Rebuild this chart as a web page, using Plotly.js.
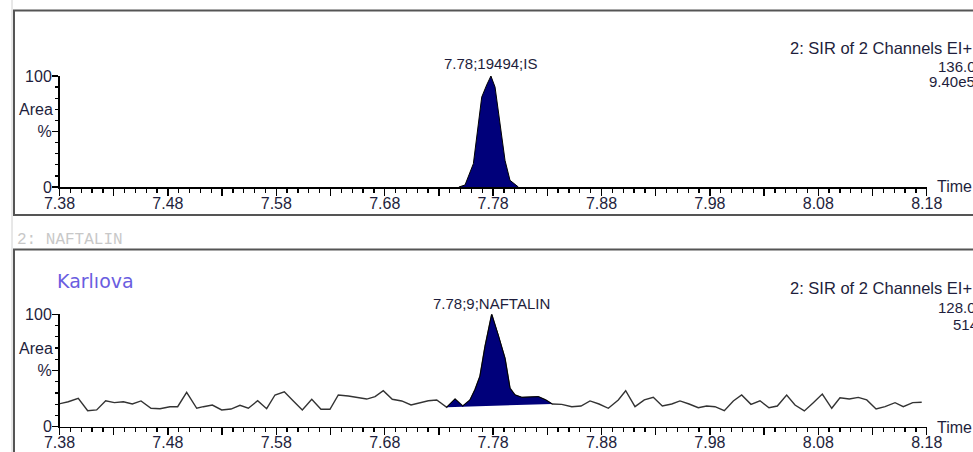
<!DOCTYPE html>
<html>
<head>
<meta charset="utf-8">
<script src="https://cdn.plot.ly/plotly-3.0.1.min.js"></script>
<style>
html,body{margin:0;padding:0;background:#fff;overflow:hidden;}
#chart{width:973px;height:452px;}
</style>
</head>
<body>
<div id="chart"></div>
<script>
// ---- Data ----
const xTickVals = [7.38,7.43,7.48,7.53,7.58,7.63,7.68,7.73,7.78,7.83,7.88,7.93,7.98,8.03,8.08,8.13,8.18];
const xTickText = ['7.38','','7.48','','7.58','','7.68','','7.78','','7.88','','7.98','','8.08','','8.18'];
const yTickVals = [0, 50, 100];
const yTickText = ['0', '%', '100'];

// Top panel: IS (136.00)
const isTime = [7.7484, 7.7541, 7.7618, 7.7664, 7.7695, 7.7741, 7.7780, 7.7818, 7.7848, 7.7879, 7.7910, 7.7956, 7.8033];
const isArea = [0, 1.8, 21, 54, 81, 92, 100, 90, 69, 48, 24, 6, 0];
const isLabel = '7.78;19494;IS';
const isApex = 7.778;

// Bottom panel: NAFTALIN (128.00)
const naftTime = [7.3789,7.3881,7.3973,7.4060,7.4143,7.4226,7.4306,7.4389,7.4472,7.4552,
  7.4644,7.4727,7.4819,7.4890,7.4973,7.5066,7.5127,7.5210,7.5296,7.5382,
  7.5465,7.5542,7.5628,7.5711,7.5788,7.5874,7.5957,7.6040,7.6127,7.6212,
  7.6295,7.6372,7.6464,7.6551,7.6634,7.6711,7.6787,7.6870,7.6957,7.7043,
  7.7126,7.7202,7.7280,7.7372,7.7449,7.7520,7.7587,7.7633,7.7679,7.7725,
  7.7787,7.7848,7.7910,7.7956,7.8002,7.8064,7.8141,7.8217,7.8285,7.8346,
  7.8433,7.8526,7.8611,7.8694,7.8777,7.8863,7.8955,7.9023,7.9109,7.9195,
  7.9278,7.9361,7.9448,7.9524,7.9608,7.9693,7.9770,7.9847,7.9933,8.0016,
  8.0093,8.0179,8.0262,8.0345,8.0422,8.0508,8.0585,8.0671,8.0754,8.0837,
  8.0924,8.1000,8.1086,8.1169,8.1247,8.1333,8.1416,8.1508,8.1584,8.1671,8.1754];
const naftArea = [20.2,22.2,25.3,14.2,14.9,23.1,21.4,22.2,20.2,22.9,
  16.4,16.0,17.8,17.8,30.6,16.4,17.8,19.3,14.9,15.7,
  19.0,16.4,23.1,16.0,28.2,31.1,22.9,14.9,24.4,15.5,
  15.5,28.2,27.3,26.1,24.6,26.7,32.0,24.4,22.9,19.3,
  21.4,23.1,23.8,17.3,24.6,18.4,23.8,33.0,45.0,71.2,
  100,81.6,60.8,34.2,28.2,26.1,26.7,26.7,23.8,20.2,
  19.9,17.8,18.4,22.9,20.2,16.4,23.8,32.0,17.8,23.8,
  26.1,18.4,20.2,22.9,20.2,16.9,18.4,17.8,14.2,22.9,
  28.2,19.9,23.1,16.9,18.4,28.2,19.3,14.0,21.4,29.1,
  16.4,25.8,24.6,26.1,23.8,15.7,17.8,21.4,17.8,21.4,21.7];
const naftPeakStart = 7.7372;
const naftPeakEnd = 7.8346;
const naftLabel = '7.78;9;NAFTALIN';
const naftApex = 7.7787;

// ---- Layout helpers (pixel -> paper) ----
const W = 973, H = 452;
const P = x => x / W;
const Q = y => 1 - y / H;

const ARIAL = 'Liberation Sans, Arial, sans-serif';
const TXT = '#1e1e3c';

const pkT = [], pkA = [];
naftTime.forEach((t, i) => { if (t >= naftPeakStart - 1e-9 && t <= naftPeakEnd + 1e-9) { pkT.push(t); pkA.push(naftArea[i]); } });

const traces = [
  {x: isTime, y: isArea, xaxis: 'x', yaxis: 'y', mode: 'lines', fill: 'toself',
   fillcolor: '#00007a', line: {color: '#000', width: 1}, hoverinfo: 'skip'},
  {x: naftTime, y: naftArea, xaxis: 'x2', yaxis: 'y2', mode: 'lines',
   line: {color: '#333', width: 1.4}, hoverinfo: 'skip'},
  {x: pkT, y: pkA, xaxis: 'x2', yaxis: 'y2', mode: 'lines', fill: 'toself',
   fillcolor: '#00007a', line: {color: '#000', width: 1}, hoverinfo: 'skip'}
];

function xAxis(anchor) {
  return {
    domain: [P(59.5), P(926.7)], range: [7.38, 8.18], anchor: anchor,
    showgrid: false, zeroline: false, showline: true, linecolor: '#000', linewidth: 1.5,
    tickmode: 'array', tickvals: xTickVals, ticktext: xTickText,
    ticks: 'outside', ticklen: 7, tickwidth: 1.5, tickcolor: '#000',
    ticklabelstandoff: -6,
    tickfont: {family: ARIAL, size: 16, color: TXT},
    minor: {dtick: 0.01, tick0: 7.38, ticks: 'outside', ticklen: 4, tickwidth: 1.3, tickcolor: '#000', showgrid: false}
  };
}
function yAxis(anchor, y0, y100) {
  return {
    domain: [Q(y0), Q(y100)], range: [0, 100], anchor: anchor,
    showgrid: false, zeroline: false, showline: true, linecolor: '#000', linewidth: 1.5,
    tickmode: 'array', tickvals: yTickVals, ticktext: yTickText,
    ticks: 'outside', ticklen: 6, tickwidth: 1.5, tickcolor: '#000',
    ticklabelstandoff: -3,
    tickfont: {family: ARIAL, size: 16, color: TXT},
    minor: {dtick: 10, tick0: 0, ticks: 'outside', ticklen: 3, tickwidth: 1.3, tickcolor: '#000', showgrid: false}
  };
}

function txt(text, x, y, opts) {
  return Object.assign({text: text, xref: 'paper', yref: 'paper', x: P(x), y: Q(y),
    xanchor: 'left', yanchor: 'middle', showarrow: false,
    font: {family: ARIAL, size: 16, color: TXT}}, opts || {});
}
const small = {font: {family: ARIAL, size: 15, color: TXT}};

const annotations = [
  // peak labels
  {text: isLabel, xref: 'x', yref: 'y', x: isApex, y: 100, xanchor: 'center', yanchor: 'bottom',
   yshift: 2, showarrow: false, font: {family: ARIAL, size: 15, color: TXT}},
  {text: naftLabel, xref: 'x2', yref: 'y2', x: naftApex, y: 100, xanchor: 'center', yanchor: 'bottom',
   yshift: 0, showarrow: false, font: {family: ARIAL, size: 15, color: TXT}},
  // Area labels
  {text: 'Area', xref: 'paper', yref: 'y', x: P(55), y: 70, xanchor: 'right', yanchor: 'middle', showarrow: false,
   font: {family: ARIAL, size: 16, color: TXT}},
  {text: 'Area', xref: 'paper', yref: 'y2', x: P(55), y: 70, xanchor: 'right', yanchor: 'middle', showarrow: false,
   font: {family: ARIAL, size: 16, color: TXT}},
  // Time labels
  txt('Time', 935, 187),
  txt('Time', 935, 427),
  // header texts top
  txt('2: SIR of 2 Channels EI+', 788, 48, {font: {family: ARIAL, size: 16.5, color: TXT}}),
  txt('136.00', 936, 67, small),
  txt('9.40e5', 927, 82, small),
  // header texts bottom
  txt('2: SIR of 2 Channels EI+', 788, 287.5, {font: {family: ARIAL, size: 16.5, color: TXT}}),
  txt('128.00', 936, 307, small),
  txt('514', 951, 324, small),
  // panel name
  txt('2: NAFTALIN', 15, 240, {font: {family: 'Liberation Mono, Courier New, monospace', size: 16, color: '#c8c8c8'}}),
  txt('Karlıova', 55, 281, {font: {family: 'DejaVu Sans, Verdana, sans-serif', size: 19, color: '#6a5de0'}})
];

const shapes = [
  {type: 'line', xref: 'paper', yref: 'paper', x0: P(12), x1: P(12), y0: Q(0), y1: Q(452), line: {color: '#d0d0d0', width: 1}},
  {type: 'rect', xref: 'paper', yref: 'paper', x0: P(14), x1: P(990), y0: Q(10.5), y1: Q(215), line: {color: '#555', width: 2}},
  {type: 'rect', xref: 'paper', yref: 'paper', x0: P(14), x1: P(990), y0: Q(249.5), y1: Q(470), line: {color: '#555', width: 2}}
];

const layout = {
  width: W, height: H, margin: {l: 0, r: 0, t: 0, b: 0},
  paper_bgcolor: '#fff', plot_bgcolor: 'rgba(0,0,0,0)', showlegend: false,
  xaxis: xAxis('y'), yaxis: yAxis('x', 187, 76),
  xaxis2: xAxis('y2'), yaxis2: yAxis('x2', 426.7, 314.3),
  annotations: annotations, shapes: shapes
};

Plotly.newPlot('chart', traces, layout, {staticPlot: true, displayModeBar: false});
</script>
</body>
</html>
